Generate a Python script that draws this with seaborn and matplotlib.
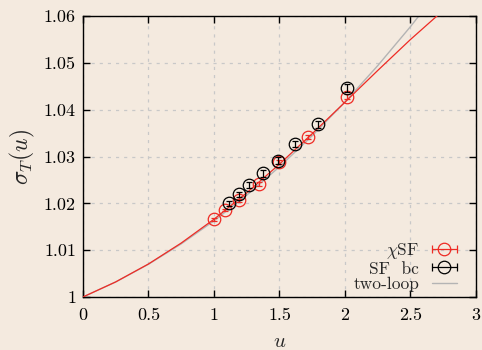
import matplotlib
matplotlib.use("Agg")
import matplotlib.pyplot as plt
import seaborn as sns
import pandas as pd
from matplotlib.lines import Line2D
from matplotlib.legend_handler import HandlerLine2D, HandlerTuple
from matplotlib.ticker import FuncFormatter

# ---- data ----
chi_u = [1.0, 1.084, 1.193, 1.346, 1.496, 1.72, 2.018]
chi_sigma = [1.0166, 1.0186, 1.0207, 1.0241, 1.0289, 1.0342, 1.0428]
chi_err = [0.0003, 0.0003, 0.0003, 0.0004, 0.0004, 0.0004, 0.0005]

sf_u = [1.112, 1.189, 1.269, 1.372, 1.491, 1.618, 1.796, 2.018]
sf_sigma = [1.0200, 1.0219, 1.0239, 1.0264, 1.0291, 1.0327, 1.0369, 1.0446]
sf_err = [0.0006, 0.0006, 0.0006, 0.0007, 0.0007, 0.0007, 0.0007, 0.0009]

curve_u = [0.0, 0.25, 0.5, 0.75, 1.0, 1.25, 1.5, 1.75, 2.0, 2.25, 2.5, 2.75]
fit_sigma = [1.0, 1.00322, 1.00705, 1.01152, 1.0166, 1.02225, 1.02838,
             1.03488, 1.04161, 1.04838, 1.0550, 1.06121]
twoloop_sigma = [1.0, 1.00321, 1.00699, 1.01134, 1.01626, 1.02175, 1.02781,
                 1.03444, 1.04164, 1.04941, 1.05775, 1.06666]

x_ticks = [0, 0.5, 1, 1.5, 2, 2.5, 3]
y_ticks = [1.0, 1.01, 1.02, 1.03, 1.04, 1.05, 1.06]
legend_labels = [r"$\chi$SF", "SF  bc", "two-loop"]

# ---- style ----
bg = "#f4eadf"
red = "#ee2b24"
grey = "#b4b4b4"
sns.set_style("ticks")
plt.rcParams["font.family"] = ["cmr10", "DejaVu Serif"]
plt.rcParams["mathtext.fontset"] = "cm"
plt.rcParams["axes.formatter.use_mathtext"] = True
plt.rcParams["axes.unicode_minus"] = False

fig = plt.figure(figsize=(4.82, 3.5), dpi=100, facecolor=bg)
ax = fig.add_axes([0.172, 0.1514, 0.8155, 0.8026])
ax.set_facecolor(bg)

curves = pd.DataFrame({"u": curve_u, "fit": fit_sigma, "two": twoloop_sigma})
sns.lineplot(data=curves, x="u", y="fit", ax=ax, color=red, lw=0.9, zorder=3)
sns.lineplot(data=curves, x="u", y="two", ax=ax, color=grey, lw=1.0, zorder=2)

ax.errorbar(chi_u, chi_sigma, yerr=chi_err, fmt="o", mfc="none", mec=red,
            ecolor=red, ms=9, mew=0.9, elinewidth=0.9, capsize=2, capthick=0.9,
            zorder=4)
ax.errorbar(sf_u, sf_sigma, yerr=sf_err, fmt="o", mfc="none", mec="black",
            ecolor="black", ms=9, mew=0.9, elinewidth=0.9, capsize=2, capthick=0.9,
            zorder=5)

ax.set_xlim(0, 3)
ax.set_ylim(1.0, 1.06)
ax.set_xticks(x_ticks)
ax.set_yticks(y_ticks)
ax.xaxis.set_major_formatter(FuncFormatter(lambda v, p: f"{v:g}"))
ax.yaxis.set_major_formatter(FuncFormatter(lambda v, p: f"{v:g}"))
ax.tick_params(direction="in", length=5, width=1, top=True, right=True,
               labelsize=13, colors="black")
ax.tick_params(axis="x", pad=8)
ax.tick_params(axis="y", pad=5)
for s in ax.spines.values():
    s.set_visible(True)
    s.set_linewidth(1.0)
    s.set_color("black")
ax.grid(True, color="#c8c8c8", linestyle=(0, (2.5, 4)), linewidth=0.9)
ax.set_axisbelow(True)

ax.set_xlabel(r"$u$", fontsize=15, labelpad=7)
ax.set_ylabel(r"$\sigma_T(u)$", fontsize=17, labelpad=5)

# legend (gnuplot style: text right, sample on right)
def err_handle(c):
    bar = Line2D([], [], color=c, lw=0.9, marker="|", ms=6, mew=0.9)
    circ = Line2D([], [], color=c, ls="none", marker="o", mfc="none", ms=9, mew=0.9)
    return bar, circ

b1, c1 = err_handle(red)
b2, c2 = err_handle("black")
gl = Line2D([], [], color=grey, lw=1.0)
hm = {c1: HandlerLine2D(numpoints=1), c2: HandlerLine2D(numpoints=1),
      tuple: HandlerTuple(ndivide=1, pad=0)}
leg = ax.legend([(b1, c1), (b2, c2), gl], legend_labels, loc="lower right",
                bbox_to_anchor=(0.995, -0.025), frameon=False, markerfirst=False,
                numpoints=2, fontsize=12.5, handlelength=2.0, handletextpad=0.45,
                labelspacing=0.0, borderaxespad=0.3, handler_map=hm)
for t in leg.get_texts():
    t.set_ha("right")

fig.savefig("out.png", dpi=100, facecolor=bg)
